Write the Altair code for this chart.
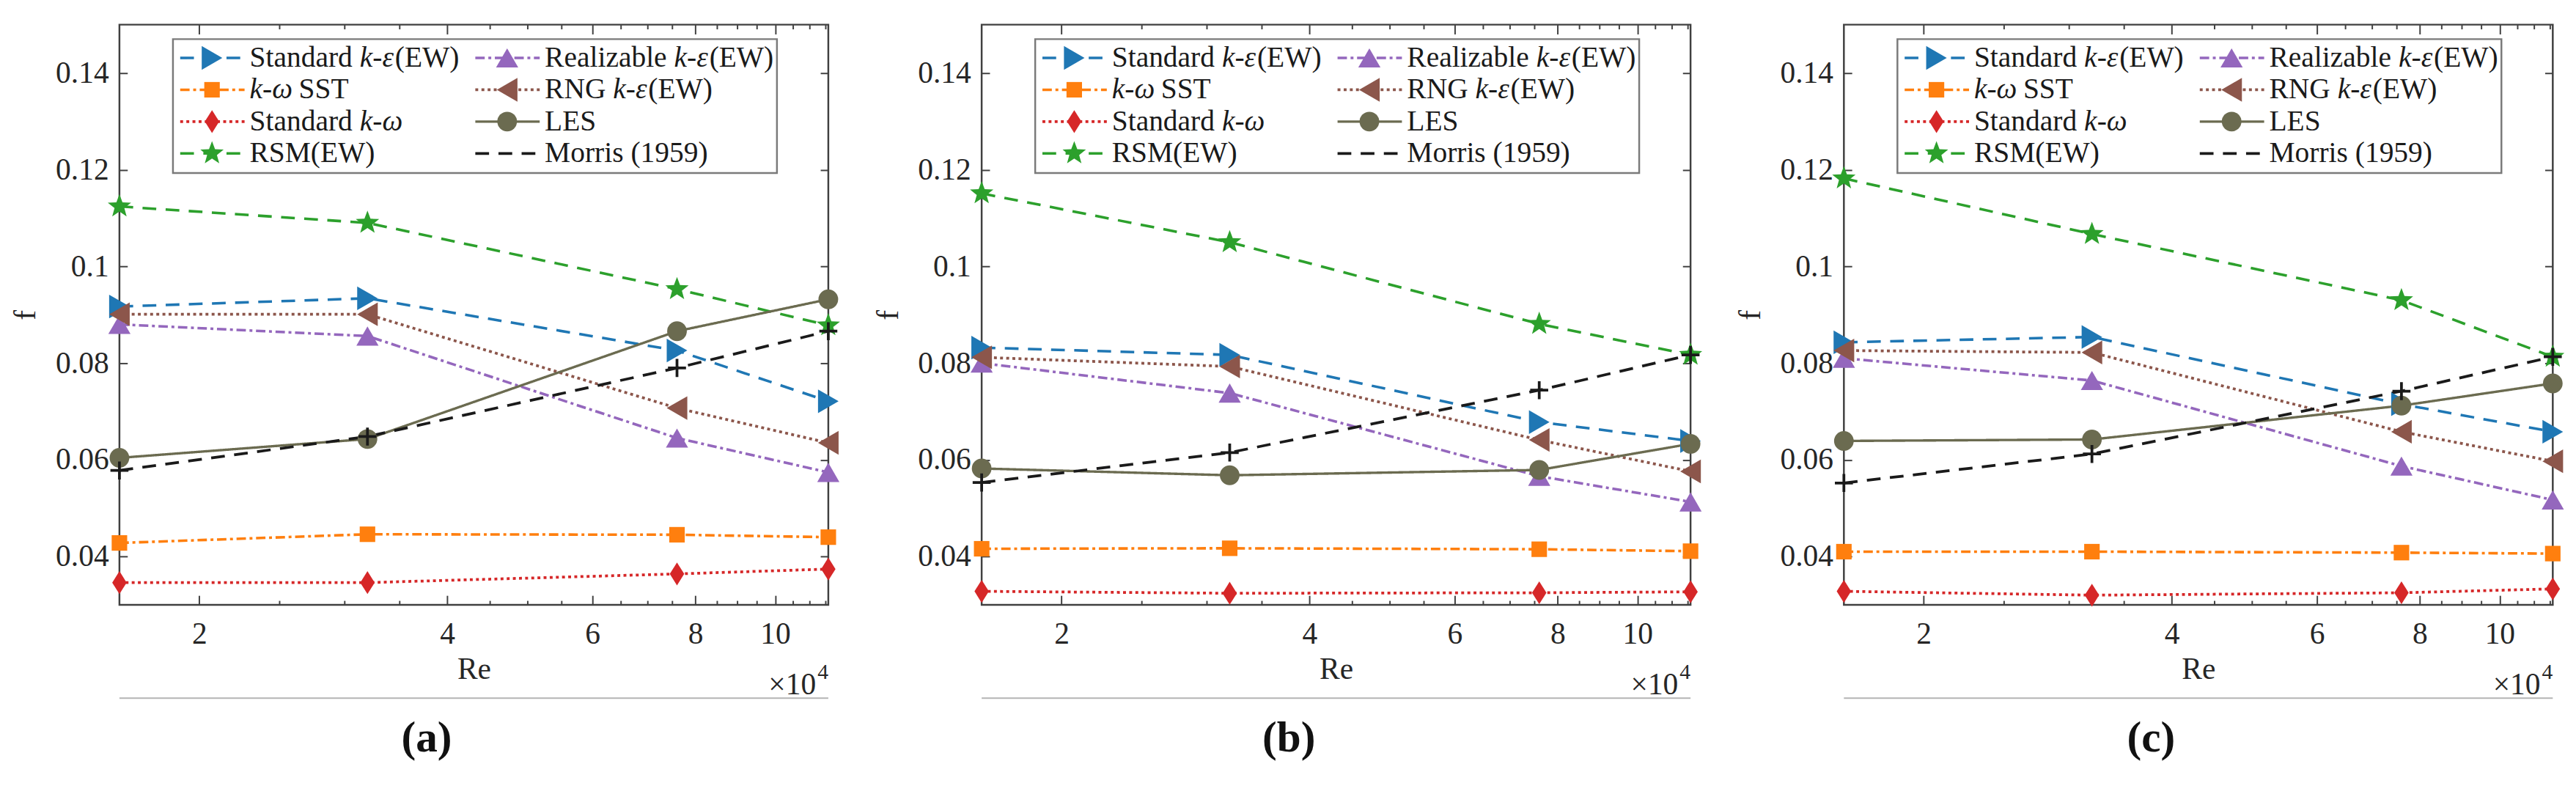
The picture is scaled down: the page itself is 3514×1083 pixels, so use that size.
import altair as alt
import pandas as pd

# ---------------- data ----------------
RE_E4 = [1.6, 3.2, 7.6, 11.6]          # Re / 1e4
X_MAJOR = [2, 4, 6, 8, 10]
X_MINOR = [2.5, 3, 3.5, 4.5, 5, 5.5, 6.5, 7, 7.5, 8.5, 9, 9.5, 10.5, 11, 11.5]
Y_TICKS = [0.04, 0.06, 0.08, 0.10, 0.12, 0.14]
X_DOMAIN = [1.6, 11.6]
Y_DOMAIN = [0.03, 0.15]

MODELS = ["Standard k-ε(EW)", "k-ω SST", "Standard k-ω", "RSM(EW)",
          "Realizable k-ε(EW)", "RNG k-ε(EW)", "LES", "Morris (1959)"]
COLORS = ["#1f77b4", "#ff7f0e", "#d62728", "#2ca02c",
          "#9467bd", "#8c564b", "#6b6b50", "#1a1a1a"]
DASHES = [[19, 13], [13, 5, 4, 5], [4, 4.5], [19, 13],
          [13, 5, 4, 5], [4, 4.5], [1, 0], [19, 13]]
WIDTHS = [3.6, 3.6, 3.8, 3.6, 3.6, 3.8, 3.4, 3.8]
DIAMOND = "M0,-1L0.63,0L0,1L-0.63,0Z"
STAR = ("M0,-1L0.2469,-0.3398L0.9511,-0.309L0.3995,0.1298L0.5878,0.809L0,0.42"
        "L-0.5878,0.809L-0.3995,0.1298L-0.9511,-0.309L-0.2469,-0.3398Z")
PLUS = "M-1,0H1M0,-1V1"
SHAPES = ["triangle-right", "square", DIAMOND, STAR,
          "triangle-up", "triangle-left", "circle", PLUS]
SIZES = [1080, 460, 1000, 1150, 940, 1080, 740, 620]

# panel (a)
A_STD_KE = [0.0917, 0.0934, 0.0826, 0.0721]
A_SST = [0.0428, 0.0446, 0.0445, 0.0440]
A_STD_KW = [0.0346, 0.0346, 0.0364, 0.0374]
A_RSM = [0.1124, 0.1090, 0.0953, 0.0878]
A_REAL = [0.0880, 0.0856, 0.0645, 0.0574]
A_RNG = [0.0901, 0.0901, 0.0707, 0.0635]
A_LES = [0.0604, 0.0643, 0.0866, 0.0932]
A_MORRIS = [0.0578, 0.0648, 0.0790, 0.0866]
# panel (b)
B_STD_KE = [0.0832, 0.0817, 0.0678, 0.0639]
B_SST = [0.0416, 0.0417, 0.0415, 0.0411]
B_STD_KW = [0.0328, 0.0324, 0.0325, 0.0327]
B_RSM = [0.1151, 0.1050, 0.0881, 0.0817]
B_REAL = [0.0800, 0.0738, 0.0566, 0.0513]
B_RNG = [0.0812, 0.0793, 0.0641, 0.0576]
B_LES = [0.0582, 0.0568, 0.0579, 0.0633]
B_MORRIS = [0.0553, 0.0615, 0.0744, 0.0817]
# panel (c)
C_STD_KE = [0.0843, 0.0854, 0.0715, 0.0658]
C_SST = [0.0410, 0.0410, 0.0408, 0.0406]
C_STD_KW = [0.0328, 0.0320, 0.0325, 0.0333]
C_RSM = [0.1182, 0.1067, 0.0930, 0.0813]
C_REAL = [0.0810, 0.0764, 0.0587, 0.0517]
C_RNG = [0.0826, 0.0822, 0.0658, 0.0597]
C_LES = [0.0639, 0.0642, 0.0712, 0.0758]
C_MORRIS = [0.0552, 0.0612, 0.0742, 0.0813]

PANELS = [
    ("(a)", [A_STD_KE, A_SST, A_STD_KW, A_RSM, A_REAL, A_RNG, A_LES, A_MORRIS]),
    ("(b)", [B_STD_KE, B_SST, B_STD_KW, B_RSM, B_REAL, B_RNG, B_LES, B_MORRIS]),
    ("(c)", [C_STD_KE, C_SST, C_STD_KW, C_RSM, C_REAL, C_RNG, C_LES, C_MORRIS]),
]

# ---------------- style / layout ----------------
SERIF = "Liberation Serif, Times New Roman, Times, serif"
W, H = 980, 802
INK = "#262626"
BOX = "#404040"
LEG_LEFT, LEG_RIGHT, LEG_TOP, LEG_BOTTOM = 74, 909, 20, 205
LEG_COL_STEP, LEG_ROW0, LEG_ROW_STEP = 408, 46, 44
LEG_FONT = 40
ITALIC_CHARS = set("kεω")
# approximate advance widths (em) of the Times-metric serif font, used to place
# the italic pieces of the legend labels next to the upright ones
ADV = {" ": 0.25, "(": 0.333, ")": 0.333, "-": 0.333, "0": 0.5, "1": 0.5, "5": 0.5,
       "9": 0.5, "E": 0.611, "W": 0.944, "L": 0.611, "S": 0.556, "T": 0.611,
       "R": 0.667, "N": 0.722, "G": 0.722, "M": 0.889, "a": 0.444, "b": 0.5,
       "d": 0.5, "e": 0.444, "i": 0.278, "l": 0.278, "n": 0.5, "o": 0.5,
       "r": 0.333, "s": 0.389, "t": 0.278, "z": 0.444, "k": 0.444, "ε": 0.44,
       "ω": 0.67}


def x_axis(orient, major):
    kw = dict(orient=orient, domain=False, grid=False, tickColor=BOX, tickWidth=2)
    if major:
        kw.update(values=X_MAJOR, tickSize=13, offset=-13)
    else:
        kw.update(values=X_MINOR, tickSize=6, offset=-6)
    if orient == "bottom" and major:
        kw.update(format="d", labelFont=SERIF, labelFontSize=42, labelColor=INK,
                  labelPadding=20, labelOverlap=False, labelFlush=False,
                  title="Re", titleFont=SERIF, titleFontSize=42,
                  titleFontWeight="normal", titleColor=INK, titlePadding=8)
    else:
        kw.update(labels=False, title=None)
    return alt.Axis(**kw)


def y_axis(orient):
    kw = dict(orient=orient, values=Y_TICKS, domain=False, grid=False,
              tickColor=BOX, tickWidth=2, tickSize=11, offset=-11)
    if orient == "left":
        kw.update(format=".2~f", labelFont=SERIF, labelFontSize=42, labelColor=INK,
                  labelPadding=15, labelOverlap=False, labelFlush=False,
                  title="f", titleFont=SERIF, titleFontSize=42,
                  titleFontWeight="normal", titleColor=INK, titlePadding=19)
    else:
        kw.update(labels=False, title=None)
    return alt.Axis(**kw)


def lines_df(series):
    rows = []
    for m, ys in zip(MODELS, series):
        for r, f in zip(RE_E4, ys):
            rows.append({"model": m, "re": r, "f": f})
    return pd.DataFrame(rows)


leg = pd.DataFrame({"model": MODELS,
                    "col": [i // 4 for i in range(len(MODELS))],
                    "row": [i % 4 for i in range(len(MODELS))]})
leg["x0"] = LEG_LEFT + 10 + LEG_COL_STEP * leg["col"]
leg["x1"] = leg["x0"] + 89
leg["mx"] = leg["x0"] + 44
leg["tx"] = leg["x0"] + 96
leg["py"] = LEG_ROW0 + LEG_ROW_STEP * leg["row"]

# split each legend label into upright / italic runs (spaces become offsets)
seg_rows = []
for _, r in leg.iterrows():
    x = float(r["tx"])
    runs = []
    for ch in r["model"]:
        it = ch in ITALIC_CHARS
        if runs and runs[-1][1] == it:
            runs[-1][0] += ch
        else:
            runs.append([ch, it, x])
        x += ADV.get(ch, 0.5) * LEG_FONT
    for text, it, sx in runs:
        lead = len(text) - len(text.lstrip(" "))
        sx += lead * ADV[" "] * LEG_FONT
        text = text.strip(" ")
        if text:
            seg_rows.append({"seg": text, "italic": it, "sx": sx, "py": r["py"]})
segs = pd.DataFrame(seg_rows)

one = pd.DataFrame({"k": [0]})

xs = alt.Scale(type="log", domain=X_DOMAIN, nice=False)
ys = alt.Scale(domain=Y_DOMAIN, nice=False, zero=False)
color = alt.Color("model:N", scale=alt.Scale(domain=MODELS, range=COLORS), legend=None)
dash = alt.StrokeDash("model:N", scale=alt.Scale(domain=MODELS, range=DASHES), legend=None)
swidth = alt.StrokeWidth("model:N", scale=alt.Scale(type="ordinal", domain=MODELS,
                                                    range=WIDTHS), legend=None)
shape = alt.Shape("model:N", scale=alt.Scale(domain=MODELS, range=SHAPES), legend=None)
size = alt.Size("model:N", scale=alt.Scale(type="ordinal", domain=MODELS, range=SIZES),
                legend=None)


def panel(label, series):
    df = lines_df(series)
    base = alt.Chart(df)
    lines = base.mark_line().encode(
        x=alt.X("re:Q", scale=xs, axis=x_axis("bottom", True)),
        y=alt.Y("f:Q", scale=ys, axis=y_axis("left")),
        color=color, strokeDash=dash, strokeWidth=swidth, order=alt.Order("re:Q"))
    marks = base.transform_filter(alt.datum.model != MODELS[7]).mark_point(
        filled=True, opacity=1).encode(
        x=alt.X("re:Q", scale=xs, axis=x_axis("bottom", False)),
        y=alt.Y("f:Q", scale=ys, axis=y_axis("right")),
        color=color, shape=shape, size=size)
    morris = base.transform_filter(alt.datum.model == MODELS[7]).mark_point(
        filled=False, shape=PLUS, size=SIZES[7], strokeWidth=3.8, color=COLORS[7],
        opacity=1).encode(
        x=alt.X("re:Q", scale=xs, axis=x_axis("top", True)),
        y=alt.Y("f:Q", scale=ys, axis=None))
    ghost = base.mark_point(opacity=0).encode(
        x=alt.X("re:Q", scale=xs, axis=x_axis("top", False)),
        y=alt.Y("f:Q", scale=ys, axis=None))

    rule = alt.Chart(one).mark_rule(color="#b4b4b4", strokeWidth=2).encode(
        x=alt.value(0), x2=alt.value(W), y=alt.value(H + 129))
    x10 = alt.Chart(one).mark_text(text="×10", align="right", baseline="alphabetic",
                                   font=SERIF, fontSize=42, color=INK).encode(
        x=alt.value(W - 17), y=alt.value(H + 124))
    sup = alt.Chart(one).mark_text(text="4", align="right", baseline="alphabetic",
                                   font=SERIF, fontSize=30, color=INK).encode(
        x=alt.value(W), y=alt.value(H + 102))

    lbox = alt.Chart(one).mark_rect(fill="white", stroke="#7a7a7a", strokeWidth=2.5).encode(
        x=alt.value(LEG_LEFT), x2=alt.value(LEG_RIGHT),
        y=alt.value(LEG_TOP), y2=alt.value(LEG_BOTTOM))
    lb = alt.Chart(leg)
    llines = lb.mark_rule().encode(
        x=alt.X("x0:Q", scale=None, axis=None), x2="x1:Q",
        y=alt.Y("py:Q", scale=None, axis=None), color=color, strokeDash=dash,
        strokeWidth=swidth)
    lmarks = lb.transform_filter(alt.datum.model != MODELS[7]).mark_point(
        filled=True, opacity=1).encode(
        x=alt.X("mx:Q", scale=None, axis=None), y=alt.Y("py:Q", scale=None, axis=None),
        color=color, shape=shape, size=size)
    sb = alt.Chart(segs)
    ltext = sb.transform_filter("!datum.italic").mark_text(
        align="left", baseline="middle", font=SERIF, fontSize=LEG_FONT,
        color="#1a1a1a").encode(
        x=alt.X("sx:Q", scale=None, axis=None), y=alt.Y("py:Q", scale=None, axis=None),
        text="seg:N")
    ltext_it = sb.transform_filter("datum.italic").mark_text(
        align="left", baseline="middle", font=SERIF, fontSize=LEG_FONT,
        fontStyle="italic", color="#1a1a1a").encode(
        x=alt.X("sx:Q", scale=None, axis=None), y=alt.Y("py:Q", scale=None, axis=None),
        text="seg:N")

    return alt.layer(lines, marks, morris, ghost, rule, x10, sup,
                     lbox, llines, lmarks, ltext, ltext_it).resolve_axis(
        x="independent", y="independent").properties(
        width=W, height=H,
        title=alt.TitleParams(text=label, orient="bottom", anchor="middle", frame="bounds",
                              font=SERIF, fontSize=60, fontWeight="bold", color="#111111",
                              offset=24))


chart = alt.hconcat(*[panel(lbl, s) for lbl, s in PANELS], spacing=38).properties(
    padding={"left": 5, "top": 16, "right": 2, "bottom": 0},
    background="white",
).configure_view(stroke=BOX, strokeWidth=2.5)

chart.save("out.html", embed_options={"renderer": "svg", "actions": False})
